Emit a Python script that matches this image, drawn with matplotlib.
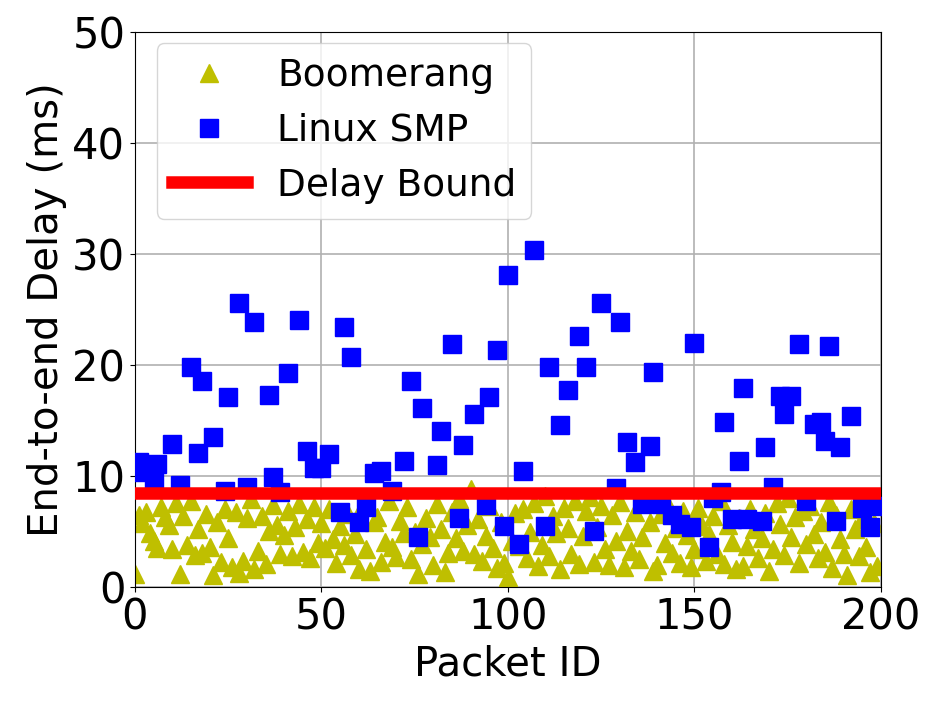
import numpy as np
import matplotlib.pyplot as plt

# Boomerang delay per packet (ms), packet IDs 0..199
boom_ids = list(range(200))
boom_delay = [
    1.2, 6.5, 5.8, 6.8, 4.9, 4.2, 3.5, 7.2, 6.3, 5.6, 3.4, 7.6, 1.2, 6.4, 3.8, 7.8, 2.9, 5.2, 3.1, 6.6,
    3.6, 1.1, 5.9, 2.3, 7.0, 4.4, 1.8, 6.8, 1.3, 2.4, 6.2, 7.9, 1.6, 3.3, 6.4, 2.1, 5.1, 7.4, 5.6, 3.0,
    4.7, 6.9, 2.8, 5.4, 7.5, 3.2, 6.1, 2.6, 7.2, 4.0, 5.8, 3.5, 7.0, 4.3, 2.2, 5.5, 3.8, 6.6, 2.9, 4.8,
    1.6, 7.4, 3.4, 1.5, 5.9, 6.3, 2.3, 4.1, 7.8, 3.6, 2.7, 6.0, 4.9, 7.2, 2.5, 5.0, 1.2, 3.9, 6.2, 4.5,
    2.0, 7.5, 5.2, 1.4, 3.1, 6.8, 4.4, 7.9, 3.3, 5.6, 8.8, 3.0, 6.1, 2.4, 4.6, 7.3, 3.5, 1.7, 5.9, 2.2,
    0.9, 4.2, 6.7, 3.7, 7.0, 2.6, 5.0, 7.6, 1.9, 3.8, 8.2, 2.8, 6.4, 4.9, 1.6, 7.1, 5.3, 3.0, 7.8, 2.1,
    4.6, 6.9, 8.1, 2.3, 5.4, 7.3, 3.4, 2.0, 6.5, 4.2, 7.7, 1.8, 5.1, 3.3, 6.8, 2.5, 4.5, 7.6, 5.9, 1.5,
    2.0, 6.6, 4.0, 7.4, 3.1, 5.3, 2.2, 6.9, 4.7, 1.8, 3.4, 7.1, 5.5, 2.4, 4.8, 6.4, 3.0, 7.8, 2.1, 5.6,
    4.1, 1.6, 6.2, 1.9, 3.7, 7.0, 5.2, 2.6, 4.4, 6.7, 1.5, 3.4, 7.6, 5.7, 2.9, 8.0, 4.5, 6.3, 2.2, 6.9,
    3.9, 7.3, 4.8, 2.6, 5.9, 3.2, 7.7, 1.7, 6.5, 4.3, 3.0, 1.1, 7.0, 5.2, 2.8, 6.1, 3.6, 1.4, 5.8, 1.9,
]

# Linux SMP delay (ms)
smp_ids = [
    1, 2, 4, 5, 6, 10, 12, 15, 17, 18, 21, 24, 25, 28, 30, 32, 36, 37, 39, 41,
    44, 46, 48, 50, 52, 55, 56, 58, 60, 62, 64, 66, 69, 72, 74, 76, 77, 81, 82, 85,
    87, 88, 91, 94, 95, 97, 99, 100, 103, 104, 107, 110, 111, 114, 116, 119, 121, 123, 125, 129,
    130, 132, 134, 136, 138, 139, 141, 144, 146, 149, 150, 154, 155, 157, 158, 160, 162, 163, 164, 168,
    169, 171, 173, 174, 176, 178, 180, 182, 184, 185, 186, 188, 189, 192, 195, 197, 198,
]
smp_delay = [
    11.3, 10.4, 11.0, 9.6, 11.1, 12.9, 9.2, 19.8, 12.1, 18.6, 13.5, 8.7, 17.1, 25.6, 9.0, 23.9, 17.3, 9.9, 8.6, 19.3,
    24.1, 12.3, 10.7, 10.7, 12.0, 6.8, 23.4, 20.7, 5.9, 7.2, 10.3, 10.5, 8.7, 11.4, 18.6, 4.5, 16.1, 11.0, 14.1, 21.9,
    6.2, 12.8, 15.6, 7.4, 17.1, 21.4, 5.5, 28.1, 3.9, 10.5, 30.4, 5.5, 19.8, 14.6, 17.8, 22.6, 19.8, 5.1, 25.6, 8.9,
    23.9, 13.1, 11.3, 7.5, 12.7, 19.4, 7.5, 6.5, 5.7, 5.4, 22.0, 3.6, 8.0, 8.6, 14.9, 6.1, 11.4, 17.9, 6.1, 6.0,
    12.6, 9.0, 17.2, 15.6, 17.2, 21.9, 7.8, 14.7, 14.9, 13.2, 21.7, 6.0, 12.6, 15.4, 7.1, 5.4, 7.3,
]

delay_bound = 8.5

fig = plt.figure(figsize=(9.4, 7.1), dpi=100)
ax = fig.add_axes([0.1436, 0.173, 0.7936, 0.782])

ax.plot(boom_ids, boom_delay, '^', color='y', markersize=13, label='Boomerang', zorder=2)
ax.plot(smp_ids, smp_delay, 's', color='b', markersize=13, label='Linux SMP', zorder=3)
ax.axhline(delay_bound, color='r', linewidth=9, label='Delay Bound', zorder=4)

ax.set_xlim(0, 200)
ax.set_ylim(0, 50)
ax.set_xticks([0, 50, 100, 150, 200])
ax.set_yticks([0, 10, 20, 30, 40, 50])
ax.tick_params(labelsize=30)
ax.grid(True, color='#b0b0b0', linewidth=1.2)
ax.set_axisbelow(True)

ax.set_xlabel('Packet ID', fontsize=29)
ax.set_ylabel('End-to-end Delay (ms)', fontsize=29)

ax.legend(loc='upper left', fontsize=27, borderaxespad=0,
          bbox_to_anchor=(0.0295, 0.98))

plt.savefig('out.png', dpi=100)
